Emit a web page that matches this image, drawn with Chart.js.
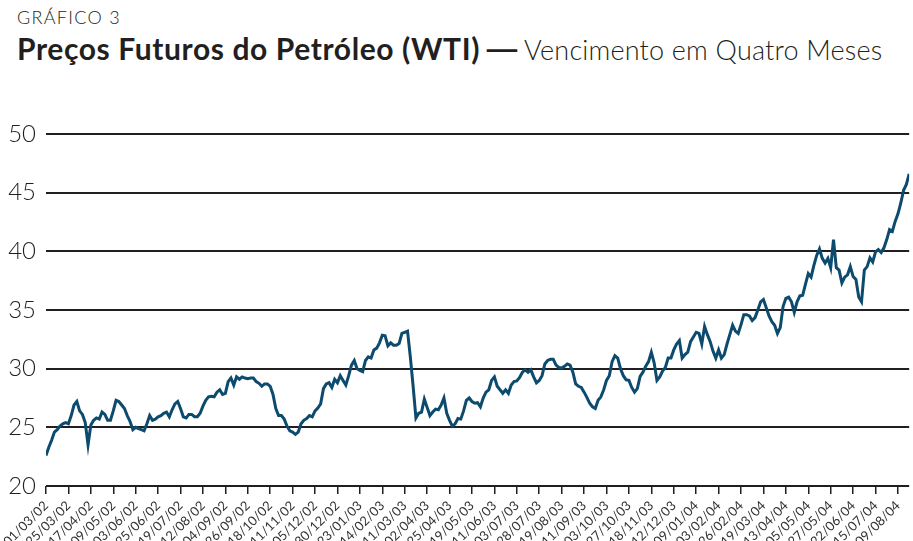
<!DOCTYPE html>
<html lang="pt">
<head>
  <meta charset="UTF-8" />
  <title>Preços Futuros do Petróleo (WTI)</title>
  <script src="https://cdn.jsdelivr.net/npm/chart.js"></script>
  <style>
    html, body {
      margin: 0;
      padding: 0;
      background: #fff;
    }
    body {
      width: 913px;
      height: 541px;
      position: relative;
      overflow: hidden;
      font-family: Lato, "Noto Sans", sans-serif;
      color: #231f20;
    }
    .label {
      position: absolute;
      left: 17px;
      top: 6px;
      font-size: 18px;
      font-weight: 300;
      letter-spacing: 1.3px;
    }
    .title {
      position: absolute;
      left: 17px;
      top: 30px;
      white-space: nowrap;
    }
    .title b {
      font-weight: 700;
      font-size: 30px;
      letter-spacing: 0.6px;
    }
    .title i {
      font-style: normal;
      font-weight: 700;
      font-size: 30px;
      display: inline-block;
      transform: scaleX(1.5);
      transform-origin: left center;
      margin-right: 16px;
    }
    .title span {
      font-weight: 300;
      font-size: 27px;
      letter-spacing: 0.2px;
    }
    .chart-box {
      position: absolute;
      left: 0;
      top: 0;
      width: 913px;
      height: 541px;
    }
  </style>
</head>
<body>
  <div class="label">GRÁFICO 3</div>
  <div class="title"><b>Preços Futuros do Petróleo (WTI)</b> <i>—</i><span>Vencimento em Quatro Meses</span></div>

  <div class="chart-box">
    <canvas id="wtiChart" width="913" height="541"></canvas>
  </div>

  <script>
    // datas marcadas no eixo (uma a cada 8 pontos da série)
    const tickDates = [
      '01/03/02', '25/03/02', '17/04/02', '09/05/02', '03/06/02', '25/06/02', '19/07/02', '12/08/02',
      '04/09/02', '26/09/02', '18/10/02', '11/11/02', '05/12/02', '30/12/02', '23/01/03', '14/02/03',
      '11/03/03', '02/04/03', '25/04/03', '19/05/03', '11/06/03', '03/07/03', '28/07/03', '19/08/03',
      '11/09/03', '03/10/03', '27/10/03', '18/11/03', '12/12/03', '09/01/04', '03/02/04', '26/02/04',
      '19/03/04', '13/04/04', '05/05/04', '27/05/04', '22/06/04', '15/07/04', '09/08/04'
    ];
    const pointsPerTick = 8;

    // US$/barril
    const prices = [
      22.6, 23.3, 23.9, 24.6, 24.8, 25.1, 25.3, 25.4, 25.3, 26.0, 26.9, 27.2, 26.4, 26.1, 25.4, 23.5,
      25.2, 25.6, 25.8, 25.7, 26.3, 26.1, 25.6, 25.6, 26.4, 27.3, 27.2, 26.9, 26.6, 26.0, 25.5, 24.8,
      25.0, 24.9, 24.8, 24.7, 25.3, 26.0, 25.6, 25.7, 25.9, 26.0, 26.2, 26.3, 25.9, 26.5, 27.0, 27.2,
      26.6, 25.9, 25.8, 26.1, 26.1, 25.9, 25.9, 26.2, 26.8, 27.3, 27.6, 27.65, 27.6, 28.0, 28.2, 27.8,
      27.9, 28.9, 29.2, 28.6, 29.3, 29.1, 29.3, 29.2, 29.15, 29.2, 29.2, 28.9, 28.75, 28.5, 28.7, 28.7,
      28.5, 27.8, 26.6, 26.0, 26.0, 25.7, 25.1, 24.7, 24.6, 24.4, 24.6, 25.3, 25.6, 25.75, 26.0, 25.9,
      26.4, 26.65, 27.0, 28.3, 28.7, 28.8, 28.4, 29.1, 28.8, 29.4, 29.0, 28.6, 29.4, 30.3, 30.7, 30.0,
      29.85, 29.75, 30.7, 31.0, 30.9, 31.6, 31.75, 32.2, 32.85, 32.8, 31.95, 32.2, 32.0, 32.0, 32.15, 33.0,
      33.1, 33.2, 31.0, 28.5, 25.8, 26.2, 26.3, 27.4, 26.7, 26.0, 26.3, 26.55, 26.5, 26.9, 27.5, 26.2,
      25.6, 25.1, 25.3, 25.75, 25.7, 26.4, 27.3, 27.5, 27.2, 27.05, 27.1, 26.75, 27.5, 28.0, 28.2, 29.0,
      29.3, 28.5, 28.2, 27.9, 28.2, 27.9, 28.6, 28.9, 28.95, 29.25, 29.7, 29.9, 29.7, 29.9, 29.3, 28.8,
      29.0, 29.4, 30.4, 30.7, 30.8, 30.8, 30.3, 30.1, 30.05, 30.2, 30.4, 30.3, 29.7, 28.7, 28.5, 28.4,
      28.0, 27.55, 27.05, 26.75, 26.6, 27.3, 27.6, 28.2, 29.0, 29.4, 30.6, 31.1, 30.9, 30.0, 29.4, 29.05,
      29.0, 28.4, 28.0, 28.3, 29.35, 29.7, 30.2, 30.6, 31.4, 30.5, 29.0, 29.3, 29.8, 30.1, 30.9, 30.9,
      31.6, 32.1, 32.4, 30.9, 31.2, 31.4, 32.3, 32.7, 33.1, 33.0, 32.1, 33.6, 32.9, 32.3, 31.5, 30.9,
      31.6, 30.9, 31.2, 32.1, 32.9, 33.7, 33.2, 33.0, 33.75, 34.6, 34.6, 34.5, 34.1, 34.35, 35.0, 35.7,
      35.9, 35.2, 34.5, 34.0, 33.7, 33.0, 33.5, 35.3, 36.0, 36.1, 35.7, 34.8, 35.7, 36.2, 36.25, 37.2,
      38.1, 37.8, 38.8, 39.65, 40.2, 39.4, 39.0, 39.4, 38.6, 41.0, 38.6, 38.4, 37.3, 37.8, 38.0, 38.7,
      37.85, 37.6, 36.1, 35.7, 38.4, 38.7, 39.45, 39.1, 39.95, 40.15, 39.9, 40.3, 41.0, 41.85, 41.7, 42.55,
      43.2, 44.1, 45.2, 45.7, 46.6
    ];

    const yTicks = [20, 25, 30, 35, 40, 45, 50];

    const lineColor = '#0c4b6e';
    const inkColor = '#231f20';

    new Chart(document.getElementById('wtiChart').getContext('2d'), {
      type: 'line',
      data: {
        datasets: [{
          data: prices.map((v, i) => ({ x: i, y: v })),
          borderColor: lineColor,
          borderWidth: 3,
          pointRadius: 0,
          tension: 0,
          fill: false
        }]
      },
      options: {
        responsive: false,
        animation: false,
        layout: { padding: { top: 134, right: 1, left: 0, bottom: 0 } },
        plugins: {
          legend: { display: false },
          tooltip: { enabled: false }
        },
        scales: {
          x: {
            type: 'linear',
            min: 0,
            max: prices.length - 1,
            afterFit: scale => { scale.height = 55; },
            border: { display: false },
            grid: {
              drawOnChartArea: false,
              drawTicks: true,
              tickLength: 8,
              color: inkColor,
              lineWidth: 1.5
            },
            ticks: {
              stepSize: pointsPerTick,
              includeBounds: false,
              autoSkip: false,
              minRotation: 45,
              maxRotation: 45,
              padding: 4,
              color: '#333',
              font: { family: 'Lato, "Noto Sans", sans-serif', size: 13 },
              callback: v => tickDates[v / pointsPerTick] || ''
            }
          },
          y: {
            min: yTicks[0],
            max: yTicks[yTicks.length - 1],
            afterFit: scale => { scale.width = 46; },
            border: { display: false },
            grid: {
              drawTicks: false,
              color: inkColor,
              lineWidth: 2
            },
            ticks: {
              stepSize: 5,
              padding: 10,
              color: inkColor,
              font: { family: 'Lato, "Noto Sans", sans-serif', size: 24, weight: '300' }
            }
          }
        }
      }
    });
  </script>
</body>
</html>
